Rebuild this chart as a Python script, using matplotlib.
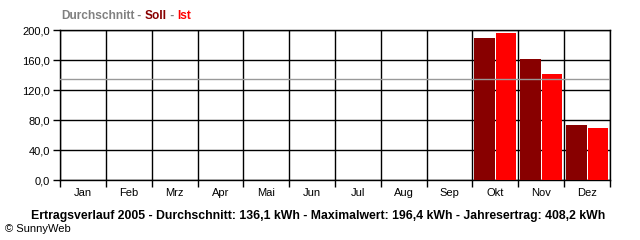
import matplotlib
matplotlib.use("Agg")
import matplotlib.pyplot as plt
import numpy as np

months = ["Jan", "Feb", "Mrz", "Apr", "Mai", "Jun", "Jul", "Aug", "Sep", "Okt", "Nov", "Dez"]
soll = [0, 0, 0, 0, 0, 0, 0, 0, 0, 189.0, 161.0, 73.0]
ist = [0, 0, 0, 0, 0, 0, 0, 0, 0, 196.4, 141.0, 69.0]
durchschnitt = 134.5
y_ticks = [0, 40, 80, 120, 160, 200]
bottom_title = "Ertragsverlauf 2005 - Durchschnitt: 136,1 kWh - Maximalwert: 196,4 kWh - Jahresertrag: 408,2 kWh"

plt.rcParams["font.family"] = ["Liberation Sans", "DejaVu Sans"]

fig = plt.figure(figsize=(6.4, 2.4), dpi=100)
ax = fig.add_axes([60 / 640, 60 / 240, 550 / 640, 150 / 240])

x = np.arange(len(months))
ax.bar(x + 0.04, soll, width=0.46, align="edge", color="#880000", zorder=3)
ax.bar(x + 0.52, ist, width=0.44, align="edge", color="#ff0000", zorder=3)
ax.axhline(durchschnitt, color="#999999", linewidth=1, zorder=4)

ax.set_xlim(0, 12)
ax.set_ylim(0, 200)
ax.set_xticks(np.arange(13))
ax.set_xticklabels([])
ax.set_xticks(x + 0.5, minor=True)
ax.set_xticklabels(months, minor=True, fontsize=8)
ax.tick_params(axis="x", which="minor", length=0, pad=6)
ax.tick_params(axis="x", which="major", length=5, width=1, color="black", direction="out")
ax.set_yticks(y_ticks)
ax.set_yticklabels([f"{v:.1f}".replace(".", ",") for v in y_ticks], fontsize=8)
ax.tick_params(axis="y", length=5, width=1, direction="out", pad=2)
ax.grid(True, which="major", color="black", linewidth=1, zorder=1)
for s in ax.spines.values():
    s.set_linewidth(1)
ax.set_axisbelow(True)

# multicoloured header
fig.canvas.draw()
renderer = fig.canvas.get_renderer()
xpos = 61 / 640
for txt, col in [("Durchschnitt", "#808080"), (" - ", "#808080"), ("Soll", "#880000"),
                 (" - ", "#808080"), ("Ist", "#ff0000")]:
    t = fig.text(xpos, 1 - 16 / 240, txt, color=col, fontsize=8.6, fontweight="bold",
                 va="center", ha="left")
    bb = t.get_window_extent(renderer)
    xpos += bb.width / fig.bbox.width

fig.text(318 / 640, 1 - 216 / 240, bottom_title, fontsize=8.8, fontweight="bold",
         ha="center", va="center")
fig.text(5 / 640, 1 - 229 / 240, "\u00a9 SunnyWeb", fontsize=8, ha="left", va="center")

fig.savefig("out.png", dpi=100)
